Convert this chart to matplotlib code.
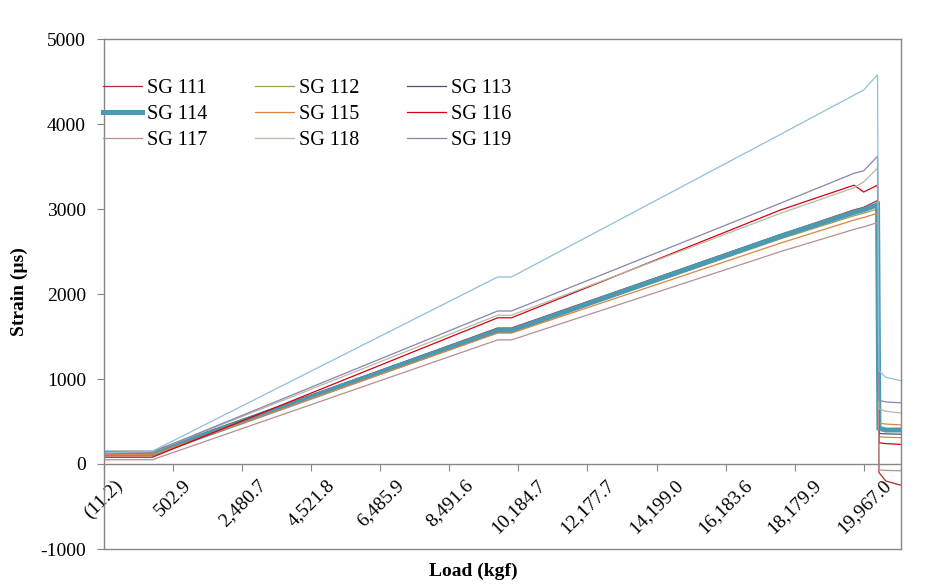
import matplotlib
matplotlib.use("Agg")
import matplotlib.pyplot as plt

plt.rcParams['font.family'] = ['Liberation Serif', 'DejaVu Serif']
plt.rcParams['axes.unicode_minus'] = False

# x axis is a category axis (one category per load reading), labelled every 50 readings
load_labels = ['(11.2)', '502.9', '2,480.7', '4,521.8', '6,485.9', '8,491.6', '10,184.7',
               '12,177.7', '14,199.0', '16,183.6', '18,179.9', '19,967.0']
label_step = 50
n_readings = 577

# reading numbers where the traces bend
reading = [0, 35, 285, 295, 490, 543, 550, 560, 561, 566, 577]

# strain (microstrain) at those readings
sg111 = [130, 130, 1600, 1600, 2700, 2990, 3020, 3100, -100, -200, -250]
sg112 = [140, 140, 1560, 1560, 2650, 2920, 2950, 3000, 320, 315, 310]
sg113 = [150, 150, 1590, 1590, 2700, 2970, 3000, 3060, 360, 355, 350]
sg114 = [120, 120, 1570, 1570, 2680, 2960, 2990, 3050, 420, 400, 400]
sg115 = [110, 110, 1540, 1540, 2600, 2870, 2900, 2950, 480, 470, 460]
sg116 = [80, 80, 1720, 1720, 2990, 3280, 3200, 3280, 250, 240, 230]
sg117 = [50, 50, 1460, 1460, 2500, 2760, 2790, 2840, -70, -75, -80]
sg118 = [140, 140, 1750, 1750, 2950, 3250, 3320, 3480, 650, 620, 600]
sg119 = [140, 140, 1800, 1800, 3070, 3420, 3450, 3620, 750, 730, 720]
extra = [130, 150, 2200, 2200, 3880, 4340, 4400, 4580, 1100, 1020, 980]  # no legend entry

series = [
    ('SG 111', sg111, '#B22B2B', 0.9),
    ('SG 112', sg112, '#A89B5E', 0.9),
    ('SG 113', sg113, '#4E4E72', 0.9),
    ('SG 114', sg114, '#4A9AB2', 3.6),
    ('SG 115', sg115, '#DE8443', 0.9),
    ('SG 116', sg116, '#D80010', 0.9),
    ('SG 117', sg117, '#B88E90', 0.9),
    ('SG 118', sg118, '#B4BCA6', 0.9),
    ('SG 119', sg119, '#8A84AC', 0.9),
    ('_extra', extra, '#8EC0D6', 0.9),
]

grey = '#868686'

fig = plt.figure(figsize=(9.49, 5.84), dpi=100)
ax = fig.add_axes([104 / 949, 1 - 549 / 584, 797 / 949, 510 / 584])

for name, vals, color, lw in series:
    ax.plot(reading, vals, color=color, lw=lw, label=name, solid_joinstyle='miter')

ax.set_xlim(0, n_readings)
ax.set_ylim(-1000, 5000)
ax.set_yticks(range(-1000, 5001, 1000))
ax.set_xticks(range(0, label_step * len(load_labels), label_step))
ax.set_xticklabels(load_labels)

ax.tick_params(axis='both', direction='out', length=5, color=grey, labelsize=14)
ax.tick_params(axis='x', pad=4, labelrotation=45)
ax.tick_params(axis='y', pad=8)
for lab in ax.get_xticklabels():
    lab.set_ha('right')
    lab.set_va('center')
    lab.set_rotation_mode('anchor')

for s in ax.spines.values():
    s.set_color(grey)
    s.set_linewidth(1)
ax.spines['bottom'].set_position(('data', 0))
# bottom edge of the plot area
ax.plot([0, 1], [0, 0], transform=ax.transAxes, color=grey, lw=1, clip_on=False)

fig.text(19 / 949, 0.5, 'Strain (\u00b5s)', rotation=90, ha='center', va='center',
         fontsize=14, fontweight='bold')
fig.text(473 / 949, 1 - 571 / 584, 'Load (kgf)', ha='center', va='center',
         fontsize=14, fontweight='bold')

# legend reads row by row in the reference, matplotlib fills columns first
handles, labels = ax.get_legend_handles_labels()
order = [0, 3, 6, 1, 4, 7, 2, 5, 8]
leg = fig.legend([handles[i] for i in order], [labels[i] for i in order], ncol=3,
                 loc='upper left', bbox_to_anchor=(103 / 949, 1 - 79 / 584), frameon=False,
                 fontsize=14.5, handlelength=1.95, handletextpad=0.25,
                 columnspacing=2.35, labelspacing=0.35, borderpad=0, borderaxespad=0)

fig.savefig('out.png', dpi=100)
